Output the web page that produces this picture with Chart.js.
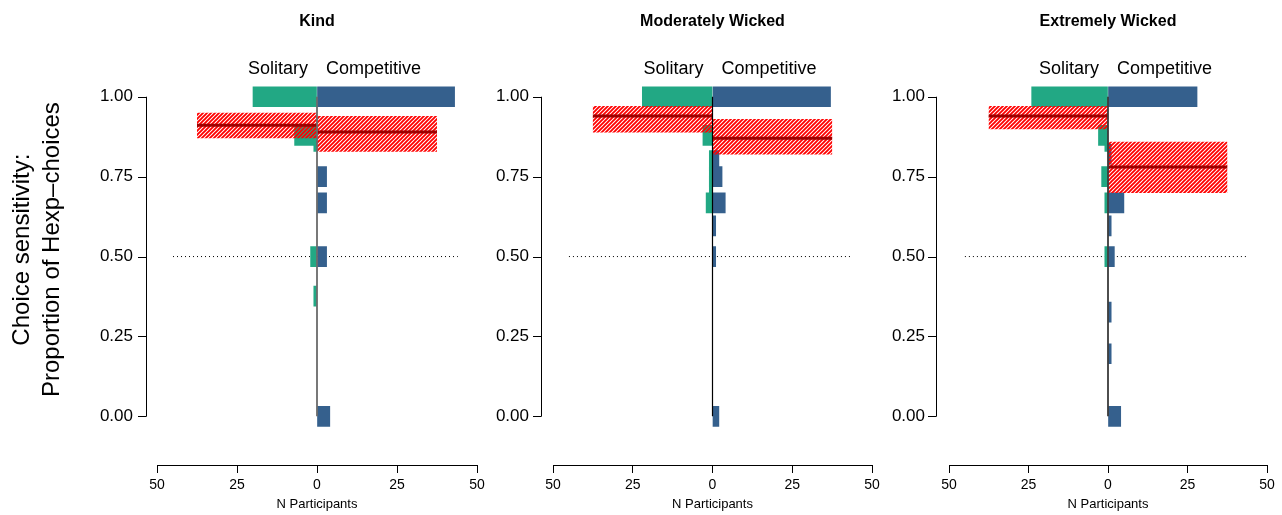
<!DOCTYPE html>
<html>
<head>
<meta charset="utf-8">
<script src="https://cdn.jsdelivr.net/npm/chart.js@4.4.1/dist/chart.umd.min.js"></script>
<style>
  html, body { margin: 0; padding: 0; background: #fff; }
  #wrap { position: relative; width: 1282px; height: 515px; overflow: hidden; }
  canvas { position: absolute; top: 0; }
</style>
</head>
<body>
<div id="wrap">
  <canvas id="p0" width="490" height="515" style="left:0px"></canvas>
  <canvas id="p1" width="395" height="515" style="left:490px"></canvas>
  <canvas id="p2" width="397" height="515" style="left:885px"></canvas>
</div>
<script>
// ---- data ----
const panelTitles = ['Kind', 'Moderately Wicked', 'Extremely Wicked'];
const sideLabels = ['Solitary', 'Competitive'];
const yTitle = ['Choice sensitivity:', 'Proportion of Hexp\u2013choices'];
const xTitle = 'N Participants';
const yTickValues = [0, 0.25, 0.5, 0.75, 1];
const xTickValues = [-50, -25, 0, 25, 50];

// proportion of Hexp-choices (bar position) and N participants per bar
const kindSolitaryProp = [1.00, 0.879, 0.86, 0.50, 0.376];
const kindSolitaryN = [20, 7, 1, 2, 1];
const kindCompetitiveProp = [1.00, 0.75, 0.668, 0.50, 0.00];
const kindCompetitiveN = [43, 3, 3, 3, 4];

const modSolitaryProp = [1.00, 0.879, 0.80, 0.75, 0.72, 0.668];
const modSolitaryN = [22, 3, 1, 1, 1, 2];
const modCompetitiveProp = [1.00, 0.80, 0.75, 0.668, 0.596, 0.50, 0.00];
const modCompetitiveN = [37, 2, 3, 4, 1, 1, 2];

const extSolitaryProp = [1.00, 0.879, 0.86, 0.75, 0.668, 0.50];
const extSolitaryN = [24, 3, 1, 2, 1, 1];
const extCompetitiveProp = [1.00, 0.82, 0.668, 0.596, 0.50, 0.326, 0.196, 0.00];
const extCompetitiveN = [28, 1, 5, 1, 2, 1, 1, 4];

// group means and intervals (Kind, Moderately Wicked, Extremely Wicked)
const solitaryMean = [0.911, 0.940, 0.940];
const solitaryLow = [0.870, 0.888, 0.898];
const solitaryHigh = [0.950, 0.971, 0.971];
const competitiveMean = [0.890, 0.870, 0.780];
const competitiveLow = [0.828, 0.819, 0.699];
const competitiveHigh = [0.940, 0.930, 0.859];
const meanLength = 37.5;
const chanceLevel = 0.5;
const chanceRange = [-45, 44];

const solitaryProps = [kindSolitaryProp, modSolitaryProp, extSolitaryProp];
const solitaryNs = [kindSolitaryN, modSolitaryN, extSolitaryN];
const competitiveProps = [kindCompetitiveProp, modCompetitiveProp, extCompetitiveProp];
const competitiveNs = [kindCompetitiveN, modCompetitiveN, extCompetitiveN];

// ---- layout ----
const FONT = '"Liberation Sans", Arial, Helvetica, sans-serif';
const GREEN = '#22A884';
const BLUE = '#35608D';
const MEANRED = '#9E0000';
const zeroColors = ['#6a6a6a', '#000000', '#3a3a3a'];
const canvasWidths = [490, 395, 397];
const plotLeft = [157, 63, 64];
const plotRight = [477, 382, 382];
const axisGap = [11, 12, 13];
const PLOT_TOP = 31, PLOT_BOTTOM = 465, ZERO_Y = 416, PX_PER_UNIT = 322;
const yMin = (ZERO_Y - PLOT_BOTTOM) / PX_PER_UNIT;
const yMax = (ZERO_Y - PLOT_TOP) / PX_PER_UNIT;

function makeHatch() {
  const c = document.createElement('canvas');
  c.width = 4; c.height = 4;
  const g = c.getContext('2d');
  g.strokeStyle = '#FF0000';
  g.lineWidth = 1.9;
  g.beginPath();
  g.moveTo(0, 4); g.lineTo(4, 0);
  g.moveTo(-1, 1); g.lineTo(1, -1);
  g.moveTo(3, 5); g.lineTo(5, 3);
  g.stroke();
  return g.createPattern(c, 'repeat');
}
const hatch = makeHatch();

function pts(props, ns, sign) {
  return props.map((p, i) => ({x: sign * ns[i], y: p}));
}
function box(lo, hi, len) {
  return [{x: 0, y: lo}, {x: len, y: lo}, {x: len, y: hi}, {x: 0, y: hi}, {x: 0, y: lo}];
}

const decorPlugin = {
  id: 'decor',
  afterDraw(chart) {
    const i = chart.options.plugins.decor.panel;
    const ctx = chart.ctx;
    const xs = chart.scales.x, ys = chart.scales.y;
    const cx = xs.getPixelForValue(0);
    const ax = chart.chartArea.left - axisGap[i];
    ctx.save();
    // y axis line and ticks, R style
    ctx.strokeStyle = '#000';
    ctx.lineWidth = 1;
    ctx.beginPath();
    ctx.moveTo(ax + 0.5, ys.getPixelForValue(yTickValues[0]));
    ctx.lineTo(ax + 0.5, ys.getPixelForValue(yTickValues[yTickValues.length - 1]));
    yTickValues.forEach(v => {
      const py = Math.round(ys.getPixelForValue(v)) + 0.5;
      ctx.moveTo(ax + 0.5, py);
      ctx.lineTo(ax - 8, py);
    });
    ctx.stroke();
    // titles
    ctx.fillStyle = '#000';
    ctx.textBaseline = 'alphabetic';
    ctx.textAlign = 'center';
    ctx.font = 'bold 16px ' + FONT;
    ctx.fillText(panelTitles[i], cx, 26);
    ctx.font = '18px ' + FONT;
    ctx.textAlign = 'right';
    ctx.fillText(sideLabels[0], cx - 9, 74);
    ctx.textAlign = 'left';
    ctx.fillText(sideLabels[1], cx + 9, 74);
    ctx.restore();
  }
};

function makePanel(i) {
  const datasets = [
    {type: 'line', data: [{x: 0, y: 0}, {x: 0, y: 1}], borderColor: zeroColors[i],
     borderWidth: i === 1 ? 1.2 : 1.8, pointRadius: 0, order: 0},
    {type: 'line', data: [{x: 0, y: solitaryMean[i]}, {x: -meanLength, y: solitaryMean[i]}],
     borderColor: MEANRED, borderWidth: 3, pointRadius: 0, order: 1},
    {type: 'line', data: [{x: 0, y: competitiveMean[i]}, {x: meanLength, y: competitiveMean[i]}],
     borderColor: MEANRED, borderWidth: 3, pointRadius: 0, order: 1},
    {type: 'line', data: box(solitaryLow[i], solitaryHigh[i], -meanLength), fill: 'shape',
     backgroundColor: hatch, borderColor: 'rgba(0,0,0,0)', borderWidth: 1, pointRadius: 0, order: 2},
    {type: 'line', data: box(competitiveLow[i], competitiveHigh[i], meanLength), fill: 'shape',
     backgroundColor: hatch, borderColor: 'rgba(0,0,0,0)', borderWidth: 1, pointRadius: 0, order: 2},
    {type: 'bar', data: pts(solitaryProps[i], solitaryNs[i], -1), backgroundColor: GREEN,
     barThickness: 20, grouped: false, order: 3},
    {type: 'bar', data: pts(competitiveProps[i], competitiveNs[i], 1), backgroundColor: BLUE,
     barThickness: 20, grouped: false, order: 3},
    {type: 'line', data: [{x: chanceRange[0], y: chanceLevel}, {x: chanceRange[1], y: chanceLevel}],
     borderColor: '#000', borderWidth: 1, borderDash: [1, 3], pointRadius: 0, order: 4}
  ];

  new Chart(document.getElementById('p' + i), {
    type: 'bar',
    data: {datasets: datasets},
    options: {
      indexAxis: 'y',
      responsive: false,
      animation: false,
      events: [],
      devicePixelRatio: 1,
      layout: {padding: {top: PLOT_TOP, left: 0, right: canvasWidths[i] - plotRight[i], bottom: 0}},
      plugins: {
        legend: {display: false},
        tooltip: {enabled: false},
        title: {display: false},
        decor: {panel: i}
      },
      scales: {
        x: {
          type: 'linear', position: 'bottom', min: -50, max: 50, offset: false,
          afterBuildTicks: s => { s.ticks = xTickValues.map(v => ({value: v})); },
          ticks: {callback: v => String(Math.abs(v)), font: {size: 14, family: FONT}, color: '#000',
                  padding: 4, maxRotation: 0, autoSkip: false},
          grid: {drawOnChartArea: false, drawTicks: true, tickLength: 8, color: '#000', lineWidth: 1, offset: false},
          border: {display: true, color: '#000', width: 1},
          title: {display: true, text: xTitle, color: '#000', font: {size: 13, family: FONT},
                  padding: {top: 0, bottom: 3}},
          afterFit: s => { s.height = 515 - PLOT_BOTTOM; }
        },
        y: {
          type: 'linear', position: 'left', min: yMin, max: yMax, offset: false,
          afterBuildTicks: s => { s.ticks = yTickValues.map(v => ({value: v})); },
          ticks: {callback: v => Number(v).toFixed(2), font: {size: 17, family: FONT}, color: '#000',
                  padding: 24, autoSkip: false},
          grid: {display: false, drawTicks: false, offset: false},
          border: {display: false},
          title: {display: i === 0, text: yTitle, color: '#000',
                  font: {size: 24, family: FONT, lineHeight: 1.25}, padding: {top: 7, bottom: 0}},
          afterFit: s => { s.width = plotLeft[i]; }
        }
      }
    },
    plugins: [decorPlugin]
  });
}

[0, 1, 2].forEach(makePanel);
</script>
</body>
</html>
